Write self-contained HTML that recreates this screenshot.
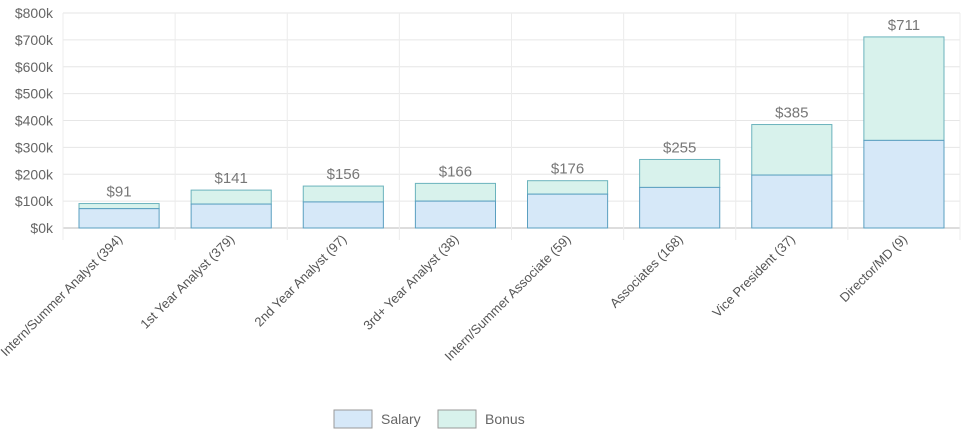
<!DOCTYPE html>
<html><head><meta charset="utf-8"><style>
body{margin:0;background:#fff;}
svg{display:block;font-family:"Liberation Sans",sans-serif;}
</style></head><body>
<svg id="chart" width="962" height="434"></svg>
<script>
const categories=["Intern/Summer Analyst (394)","1st Year Analyst (379)","2nd Year Analyst (97)","3rd+ Year Analyst (38)","Intern/Summer Associate (59)","Associates (168)","Vice President (37)","Director/MD (9)"];
const salaryValues=[72,89,97,100,126,151,197,326];
const totalValues=[91,141,156,166,176,255,385,711];
const yTicks=[0,100,200,300,400,500,600,700,800];
const seriesNames=["Salary","Bonus"];

const NS="http://www.w3.org/2000/svg";
const svgEl=document.getElementById('chart');
const plotLeft=63,plotRight=960,plotTop=13,plotBottom=228,yMax=800;
const band=(plotRight-plotLeft)/categories.length;
function yScale(v){return plotBottom-(v/yMax)*(plotBottom-plotTop);}
function xScale(i){return plotLeft+i*band;}
function mk(tag,attrs){const e=document.createElementNS(NS,tag);for(const k in attrs)e.setAttribute(k,attrs[k]);svgEl.appendChild(e);return e;}

yTicks.forEach(t=>{
  const g=mk('line',{x1:plotLeft,x2:plotRight,y1:yScale(t),y2:yScale(t),stroke:t===0?'#bbb':'#e6e6e6','stroke-width':1});
  
  
  const lb=mk('text',{x:53,y:yScale(t)+5,'text-anchor':'end','font-size':14,fill:'#666'});
  lb.textContent='$'+t+'k';
  
  
});
for(let i=0;i<=categories.length;i++){
  const g=mk('line',{x1:xScale(i),x2:xScale(i),y1:plotTop,y2:plotBottom+12,stroke:'#ececec','stroke-width':1});
  
  
}
categories.forEach((c,i)=>{
  const bx=xScale(i)+16,bw=band-32;
  const bonus=mk('rect',{x:bx,y:yScale(totalValues[i]),width:bw,height:yScale(salaryValues[i])-yScale(totalValues[i]),fill:'#d8f2ec',stroke:'#6bb3bd','stroke-width':1});
  
  
  const sal=mk('rect',{x:bx,y:yScale(salaryValues[i]),width:bw,height:plotBottom-yScale(salaryValues[i]),fill:'#d6e8f8',stroke:'#5a9fc0','stroke-width':1});
  
  
  const vl=mk('text',{x:bx+bw/2,y:yScale(totalValues[i])-7,'text-anchor':'middle','font-size':15,fill:'#777'});
  vl.textContent='$'+totalValues[i];
  
  
  const cx=xScale(i)+band/2+4,cy=plotBottom+12;
  const cl=mk('text',{x:cx,y:cy,'text-anchor':'end','font-size':13,fill:'#555',transform:'rotate(-45 '+cx+' '+cy+')'});
  cl.textContent=c;
  
  
});
const legendItems=[[334,'#d6e8f8'],[438,'#d8f2ec']];
legendItems.forEach((l,i)=>{
  const r=mk('rect',{x:l[0],y:410,width:38,height:18,fill:l[1],stroke:'#999','stroke-width':1});
  
  
  const t=mk('text',{x:l[0]+47,y:424,'font-size':14,fill:'#666'});
  t.textContent=seriesNames[i];
  
  
});
</script>
</body></html>
